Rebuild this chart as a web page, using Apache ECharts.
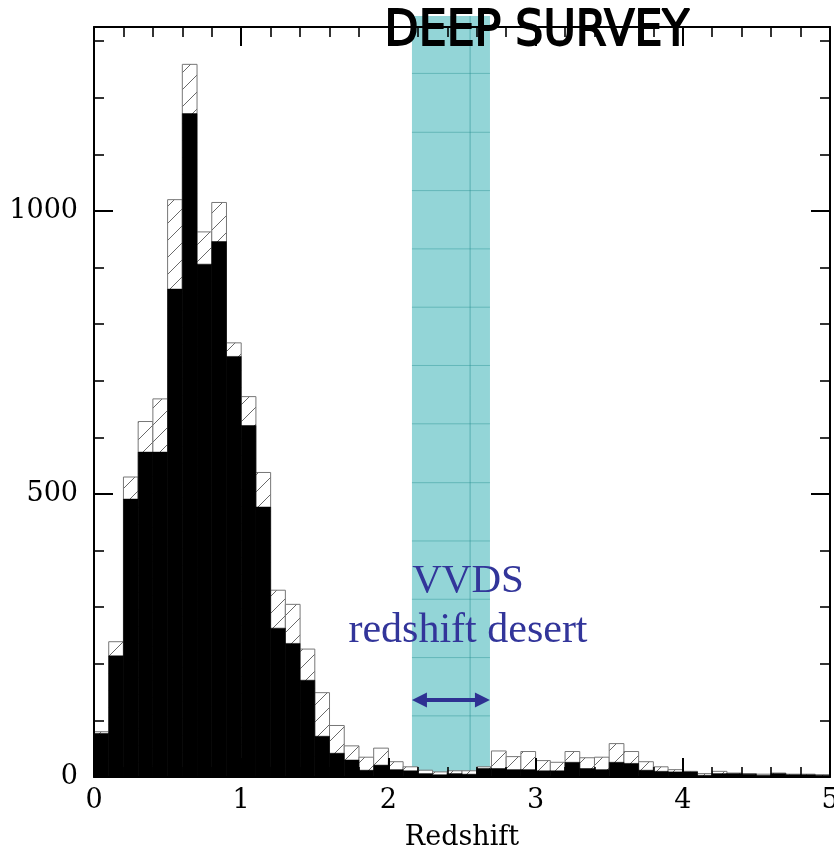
<!DOCTYPE html>
<html><head><meta charset="utf-8">
<script src="https://cdn.jsdelivr.net/npm/echarts@6/dist/echarts.min.js"></script>
<style>html,body{margin:0;padding:0;background:#fff}#c{width:834px;height:854px}</style>
</head><body><div id="c"></div>
<script>
// ---- data ----
const binStart = [0.0,0.1,0.2,0.3,0.4,0.5,0.6,0.7,0.8,0.9,
                  1.0,1.1,1.2,1.3,1.4,1.5,1.6,1.7,1.8,1.9,
                  2.0,2.1,2.2,2.3,2.4,2.5,2.6,2.7,2.8,2.9,
                  3.0,3.1,3.2,3.3,3.4,3.5,3.6,3.7,3.8,3.9,
                  4.0,4.1,4.2,4.3,4.4,4.5,4.6,4.7,4.8,4.9];
const binWidth = 0.1;
// all objects (hatched histogram)
const allCounts = [80,239,530,628,668,1020,1259,963,1015,767,
                   672,538,330,305,226,149,91,55,35,51,
                   27,18,12,9,11,11,18,46,36,45,
                   29,26,45,34,35,59,45,27,18,13,
                   10,6,10,7,6,5,7,5,5,4];
// secure redshifts (black histogram)
const secureCounts = [77,214,491,574,574,862,1172,906,946,743,
                      621,477,263,236,171,72,42,30,12,21,
                      13,11,6,4,6,5,15,15,13,13,
                      11,11,26,15,13,26,24,12,10,9,
                      9,3,6,6,5,3,6,4,4,3];
const xTickLabels = ['0','1','2','3','4','5'];
const yTickLabels = ['0','500','1000'];
const desertRange = [2.16, 2.69];
const desertArrowLevel = 136;
const bandGridX = [2.555];
const bandGridY = [108,211,314,417,520,624,727,830,933,1036,1139,1243];
const yMax = 1325;

// ---- chart ----
function hatchCanvas(){
  const s = 17, c = document.createElement('canvas');
  c.width = s; c.height = s;
  const g = c.getContext('2d');
  g.fillStyle = '#fff'; g.fillRect(0,0,s,s);
  g.strokeStyle = '#6a6a6a'; g.lineWidth = 1;
  g.beginPath();
  g.moveTo(-2, s+2); g.lineTo(s+2, -2);
  g.moveTo(-2, 2); g.lineTo(2, -2);
  g.moveTo(s-2, s+2); g.lineTo(s+2, s-2);
  g.stroke();
  return c;
}
const hatch = { image: hatchCanvas(), repeat: 'repeat' };

const chart = echarts.init(document.getElementById('c'), null, {renderer:'canvas'});
const serif = 'DejaVu Serif';

function xAxisDef(pos, labels){
  return {
    type:'value', position: pos, min:0, max:5, interval:1, z:10,
    axisLine:{show:true, onZero:false, lineStyle:{color:'#000', width:2}},
    axisTick:{show:true, inside:true, length:19, lineStyle:{color:'#000', width:2}},
    minorTick:{show:true, splitNumber:5, length:10, lineStyle:{color:'#000', width:1.6}},
    splitLine:{show:false}, minorSplitLine:{show:false},
    axisLabel:{show:labels, color:'#000', fontFamily:serif, fontSize:27, margin:10,
      formatter: v => xTickLabels[Math.round(v)] ?? ''},
    name: labels ? 'Redshift' : '', nameLocation:'middle', nameGap:47,
    nameTextStyle:{color:'#000', fontFamily:serif, fontSize:27}
  };
}
function yAxisDef(pos, major){
  return {
    type:'value', position: pos, min:0, max:yMax, interval: major ? 500 : 100, z:10,
    axisLine:{show:major, onZero:false, lineStyle:{color:'#000', width:2}},
    axisTick:{show:true, inside:true, length: major ? 19 : 10, lineStyle:{color:'#000', width: major ? 2 : 1.6}},
    splitLine:{show:false},
    axisLabel:{show: major && pos==='left', color:'#000', fontFamily:serif, fontSize:27, margin:16,
      showMaxLabel:false,
      formatter: v => yTickLabels.includes(String(v)) ? String(v) : ''}
  };
}

function barItem(fillStyle){
  return function(params, api){
    const x0 = api.value(0), v = api.value(1);
    const p0 = api.coord([x0, v]);
    const p1 = api.coord([x0 + binWidth, 0]);
    return {type:'rect', shape:{x:p0[0], y:p0[1], width:p1[0]-p0[0], height:p1[1]-p0[1]},
      style: fillStyle};
  };
}

const arrowColor = '#2e3192';
const option = {
  animation:false,
  backgroundColor:'#fff',
  grid:{left:94, right:4, top:27, bottom:77, containLabel:false, outerBoundsMode:'none'},
  xAxis:[xAxisDef('bottom', true), xAxisDef('top', false)],
  yAxis:[yAxisDef('left', true), yAxisDef('left', false), yAxisDef('right', true), yAxisDef('right', false)],
  series:[
    {
      type:'custom', name:'desert', z:1, xAxisIndex:0, yAxisIndex:0, clip:false,
      data:[[desertRange[0], desertRange[1]]],
      renderItem:function(params, api){
        const a = api.coord([api.value(0), 0]);
        const b = api.coord([api.value(1), 0]);
        const top = params.coordSys.y - 11;
        const bottom = a[1] - 2;
        const children = [{type:'rect', shape:{x:a[0], y:top, width:b[0]-a[0], height:bottom-top},
          style:{fill:'#93d5d7'}}];
        bandGridX.forEach(gx => {
          const p = api.coord([gx, 0]);
          children.push({type:'line', shape:{x1:p[0], y1:top, x2:p[0], y2:bottom},
            style:{stroke:'rgba(30,140,140,0.5)', lineWidth:1}});
        });
        bandGridY.forEach(gy => {
          const p = api.coord([desertRange[0], gy]);
          children.push({type:'line', shape:{x1:a[0], y1:p[1], x2:b[0], y2:p[1]},
            style:{stroke:'rgba(30,140,140,0.4)', lineWidth:1}});
        });
        return {type:'group', children};
      }
    },
    {
      type:'custom', name:'all', z:2, xAxisIndex:0, yAxisIndex:0,
      data: binStart.map((b,i) => [b, allCounts[i]]),
      renderItem: barItem({fill:hatch, stroke:'#777', lineWidth:1})
    },
    {
      type:'custom', name:'secure', z:3, xAxisIndex:0, yAxisIndex:0,
      data: binStart.map((b,i) => [b, secureCounts[i]]),
      renderItem: barItem({fill:'#000', stroke:'#000', lineWidth:0.5})
    },
    {
      type:'custom', name:'arrow', z:4, xAxisIndex:0, yAxisIndex:0, clip:false,
      data:[[desertRange[0], desertRange[1], desertArrowLevel]],
      renderItem:function(params, api){
        const a = api.coord([api.value(0), api.value(2)]);
        const b = api.coord([api.value(1), api.value(2)]);
        const hl = 15, hw = 7.5;
        return {type:'group', children:[
          {type:'line', shape:{x1:a[0]+hl-2, y1:a[1], x2:b[0]-hl+2, y2:b[1]},
            style:{stroke:arrowColor, lineWidth:4}},
          {type:'polygon', shape:{points:[[a[0],a[1]],[a[0]+hl,a[1]-hw],[a[0]+hl,a[1]+hw]]},
            style:{fill:arrowColor}},
          {type:'polygon', shape:{points:[[b[0],b[1]],[b[0]-hl,b[1]-hw],[b[0]-hl,b[1]+hw]]},
            style:{fill:arrowColor}}
        ]};
      }
    }
  ],
  graphic:[
    {type:'text', x:537, y:32, scaleX:0.885, z:20,
      style:{text:'DEEP SURVEY', x:0, y:0, align:'center', verticalAlign:'middle',
        fill:'#000', stroke:'#000', lineWidth:1.8, font:'50px "DejaVu Sans"'}},
    {type:'text', x:468, y:581, z:20,
      style:{text:'VVDS', x:0, y:0, align:'center', verticalAlign:'middle',
        fill:'#32359a', font:'41px "Liberation Serif"'}},
    {type:'text', x:468, y:631, z:20,
      style:{text:'redshift desert', x:0, y:0, align:'center', verticalAlign:'middle',
        fill:'#32359a', font:'42px "Liberation Serif"'}}
  ]
};
chart.setOption(option);
</script>
</body></html>
